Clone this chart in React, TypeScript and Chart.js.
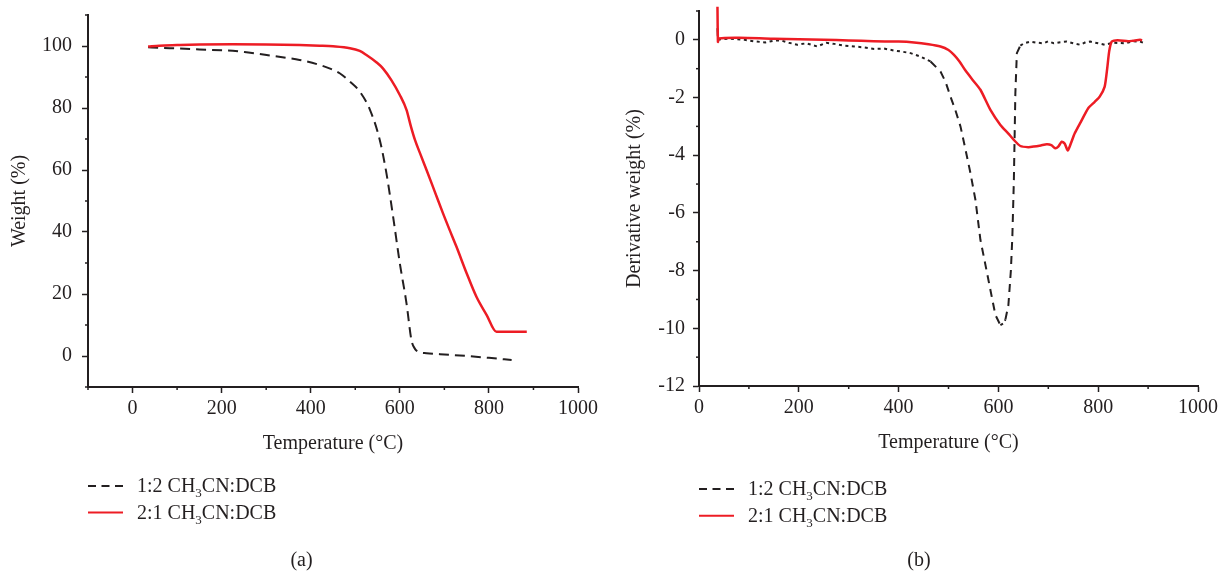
import React, { useEffect, useRef } from "react";
import { Chart, registerables } from "chart.js";

Chart.register(...registerables);

const FONT = "'Liberation Serif', 'DejaVu Serif', serif";
const INK = "#231f20";
const RED = "#ed1c24";

// ---- (a) TGA: weight (%) vs temperature (°C)
const TGA_12_TEMP = [35, 60, 100, 150, 200, 225, 260, 301, 340, 375, 420, 445, 465, 488, 510, 533, 555, 570, 585, 600, 615, 626, 634, 641, 660, 690, 750, 800, 851];
const TGA_12_WEIGHT = [99.6, 99.4, 99.2, 98.9, 98.6, 98.5, 97.9, 97.1, 96.3, 95.5, 93.9, 92.6, 91.2, 88.5, 85.3, 79.4, 69.7, 58.9, 44.9, 29.9, 17.0, 5.2, 2.3, 1.4, 0.9, 0.6, 0.0, -0.6, -1.3];
const TGA_21_TEMP = [35, 60, 100, 150, 225, 300, 375, 420, 450, 488, 510, 525, 548, 562, 581, 600, 615, 625, 634, 647, 660, 678, 697, 712, 727, 750, 772, 795, 817, 850, 885];
const TGA_21_WEIGHT = [99.8, 100.1, 100.3, 100.5, 100.6, 100.5, 100.3, 100.1, 99.9, 99.3, 98.4, 97.1, 94.7, 92.8, 89.0, 84.2, 79.4, 74.0, 69.7, 64.8, 60.0, 53.2, 46.0, 40.6, 35.3, 26.7, 19.1, 13.2, 7.8, 7.8, 7.8];

// ---- (b) DTG: derivative weight (%) vs temperature (°C)
const DTG_12_TEMP = [37, 38, 44, 60, 91, 110, 133, 150, 164, 180, 197, 215, 237, 255, 271, 290, 311, 330, 351, 370, 391, 404, 424, 444, 464, 484, 494, 504, 514, 524, 534, 544, 554, 564, 574, 584, 594, 604, 610, 614, 620, 625, 628, 631, 634, 637, 644, 651, 664, 678, 691, 700, 711, 724, 737, 750, 764, 775, 784, 800, 813, 830, 853, 870, 884, 890];
const DTG_12_DERIV = [0.4, 0.0, 0.02, 0.04, 0.0, -0.05, -0.09, -0.03, -0.02, -0.1, -0.17, -0.12, -0.23, -0.1, -0.14, -0.2, -0.23, -0.26, -0.32, -0.3, -0.37, -0.4, -0.46, -0.58, -0.75, -1.1, -1.45, -1.97, -2.45, -3.0, -3.8, -4.62, -5.55, -6.94, -7.8, -8.67, -9.54, -9.89, -9.83, -9.7, -9.2, -8.0, -6.8, -4.86, -1.85, -0.46, -0.2, -0.12, -0.06, -0.1, -0.12, -0.05, -0.12, -0.08, -0.06, -0.12, -0.17, -0.08, -0.06, -0.12, -0.17, -0.1, -0.12, -0.05, -0.06, -0.1];
const DTG_21_TEMP = [37, 38, 40, 80, 150, 200, 250, 300, 350, 400, 431, 460, 484, 500, 511, 522, 533, 548, 564, 584, 604, 620, 631, 644, 660, 671, 685, 697, 706, 714, 720, 727, 733, 739, 745, 753, 765, 780, 793, 803, 813, 818, 822, 827, 835, 844, 860, 870, 884, 888];
const DTG_21_DERIV = [1.15, -0.07, 0.05, 0.07, 0.04, 0.02, 0.0, -0.02, -0.05, -0.06, -0.09, -0.15, -0.23, -0.35, -0.52, -0.75, -1.04, -1.38, -1.73, -2.43, -2.95, -3.25, -3.47, -3.68, -3.72, -3.7, -3.66, -3.62, -3.65, -3.76, -3.7, -3.53, -3.6, -3.84, -3.6, -3.24, -2.85, -2.37, -2.15, -1.97, -1.62, -1.0, -0.4, -0.06, -0.02, -0.02, -0.05, -0.03, 0.0, -0.02];

// ---- ticks
const TGA_X_TICKS = [0, 200, 400, 600, 800, 1000];
const TGA_X_MINOR = [-100, 100, 300, 500, 700, 900];
const TGA_Y_TICKS = [0, 20, 40, 60, 80, 100];
const TGA_Y_MINOR = [-10, 10, 30, 50, 70, 90, 110];
const DTG_X_TICKS = [0, 200, 400, 600, 800, 1000];
const DTG_X_MINOR = [100, 300, 500, 700, 900];
const DTG_Y_TICKS = [0, -2, -4, -6, -8, -10, -12];
const DTG_Y_MINOR = [1, -1, -3, -5, -7, -9, -11];

// ---- text
const SERIES_LABELS = ["1:2 CH3CN:DCB", "2:1 CH3CN:DCB"];
const LEGEND_PARTS = [
  ["1:2 CH", "3", "CN:DCB"],
  ["2:1 CH", "3", "CN:DCB"],
];
const X_TITLE = "Temperature (°C)";
const TGA_Y_TITLE = "Weight (%)";
const DTG_Y_TITLE = "Derivative weight (%)";
const CAPTIONS = ["(a)", "(b)"];

const pts = (xs: number[], ys: number[]) => xs.map((x, i) => ({ x, y: ys[i] }));

const minorTicksPlugin = {
  id: "minorTicks",
  afterDraw(chart: any, _args: any, opts: any) {
    const { ctx } = chart;
    const xs = chart.scales.x;
    const ys = chart.scales.y;
    const area = chart.chartArea;
    ctx.save();
    ctx.strokeStyle = INK;
    ctx.lineWidth = 1.5;
    ctx.setLineDash([]);
    (opts.x || []).forEach((v: number) => {
      const px = xs.getPixelForValue(v);
      ctx.beginPath();
      ctx.moveTo(px, area.bottom);
      ctx.lineTo(px, area.bottom + 3);
      ctx.stroke();
    });
    (opts.y || []).forEach((v: number) => {
      const py = ys.getPixelForValue(v);
      ctx.beginPath();
      ctx.moveTo(area.left, py);
      ctx.lineTo(area.left - 3, py);
      ctx.stroke();
    });
    ctx.restore();
  },
};

const legendPlugin = {
  id: "customLegend",
  afterDraw(chart: any, _args: any, opts: any) {
    const { ctx } = chart;
    ctx.save();
    opts.items.forEach((it: any, i: number) => {
      const ly = opts.lineY + i * opts.dy;
      ctx.strokeStyle = it.color;
      ctx.lineWidth = 2;
      ctx.setLineDash(it.dash);
      ctx.beginPath();
      ctx.moveTo(opts.lineX, ly);
      ctx.lineTo(opts.lineX + opts.lineLen, ly);
      ctx.stroke();
      ctx.setLineDash([]);
      const by = opts.baseY + i * opts.dy;
      let x = opts.textX;
      ctx.fillStyle = INK;
      ctx.textBaseline = "alphabetic";
      ctx.textAlign = "left";
      const [pre, sub, post] = it.parts;
      ctx.font = `20px ${FONT}`;
      ctx.fillText(pre, x, by);
      x += ctx.measureText(pre).width;
      ctx.font = `13px ${FONT}`;
      ctx.fillText(sub, x, by + 5);
      x += ctx.measureText(sub).width;
      ctx.font = `20px ${FONT}`;
      ctx.fillText(post, x, by);
    });
    ctx.font = `20px ${FONT}`;
    ctx.textAlign = "center";
    ctx.fillStyle = INK;
    ctx.fillText(opts.caption, opts.capX, opts.capY);
    ctx.restore();
  },
};

function makeConfig(c: any) {
  const tickFont = { family: FONT, size: 20, lineHeight: 1 };
  const titleFont = { family: FONT, size: 20, lineHeight: 1.2 };
  return {
    type: "line",
    data: { datasets: c.datasets },
    options: {
      responsive: false,
      animation: false,
      events: [],
      layout: { padding: c.padding },
      plugins: {
        legend: { display: false },
        tooltip: { enabled: false },
        minorTicks: { x: c.xMinor, y: c.yMinor },
        customLegend: c.legend,
      },
      elements: { point: { radius: 0 } },
      scales: {
        x: {
          type: "linear",
          min: c.xMin,
          max: c.xMax,
          afterBuildTicks: (s: any) => {
            s.ticks = c.xTicks.map((v: number) => ({ value: v }));
          },
          afterFit: (s: any) => {
            s.height = c.xHeight;
            s.paddingLeft = 0;
            s.paddingRight = 0;
          },
          grid: { drawOnChartArea: false, drawTicks: true, tickLength: 6, tickWidth: 1.5, tickColor: INK },
          border: { display: true, color: INK, width: 2 },
          ticks: { color: INK, font: tickFont, padding: 6, maxRotation: 0, autoSkip: false, callback: (v: any) => String(v) },
          title: { display: true, text: X_TITLE, color: INK, font: titleFont, padding: { top: 0, bottom: 3 } },
        },
        y: {
          type: "linear",
          min: c.yMin,
          max: c.yMax,
          afterBuildTicks: (s: any) => {
            s.ticks = c.yTicks.map((v: number) => ({ value: v }));
          },
          afterFit: (s: any) => {
            s.width = c.yWidth;
            s.paddingTop = 0;
            s.paddingBottom = 0;
          },
          grid: { drawOnChartArea: false, drawTicks: true, tickLength: 6, tickWidth: 1.5, tickColor: INK },
          border: { display: true, color: INK, width: 2 },
          ticks: { color: INK, font: tickFont, padding: c.yTickPad, autoSkip: false, callback: (v: any) => String(v) },
          title: { display: true, text: c.yTitle, color: INK, font: titleFont, padding: { top: c.yTitlePad, bottom: 0 } },
        },
      },
    },
    plugins: [minorTicksPlugin, legendPlugin],
  };
}

const legendItems = [
  { parts: LEGEND_PARTS[0], color: INK, dash: [8, 5.5] },
  { parts: LEGEND_PARTS[1], color: RED, dash: [] },
];

const configA = () =>
  makeConfig({
    datasets: [
      { label: SERIES_LABELS[1], data: pts(TGA_21_TEMP, TGA_21_WEIGHT), borderColor: RED, borderWidth: 2.5, cubicInterpolationMode: "monotone" },
      { label: SERIES_LABELS[0], data: pts(TGA_12_TEMP, TGA_12_WEIGHT), borderColor: INK, borderWidth: 2, borderDash: [10, 6], cubicInterpolationMode: "monotone" },
    ],
    xMin: -100, xMax: 1000, yMin: -10, yMax: 110,
    xTicks: TGA_X_TICKS, yTicks: TGA_Y_TICKS, xMinor: TGA_X_MINOR, yMinor: TGA_Y_MINOR,
    yTitle: TGA_Y_TITLE, yTitlePad: 8, yTickPad: 10,
    padding: { left: 0, right: 31, top: 15, bottom: 573 - 387 - 72 },
    yWidth: 88, xHeight: 72,
    legend: { items: legendItems, lineX: 88, lineLen: 35, lineY: 486, dy: 26.5, textX: 137, baseY: 492, caption: CAPTIONS[0], capX: 301.5, capY: 566 },
  });

const configB = () =>
  makeConfig({
    datasets: [
      { label: SERIES_LABELS[1], data: pts(DTG_21_TEMP, DTG_21_DERIV), borderColor: RED, borderWidth: 2.5, clip: false, tension: 0.2 },
      {
        label: SERIES_LABELS[0],
        data: pts(DTG_12_TEMP, DTG_12_DERIV),
        borderColor: INK,
        borderWidth: 2,
        borderDash: [7, 6],
        segment: {
          borderDash: (ctx: any) => (Math.abs(ctx.p1.parsed.y - ctx.p0.parsed.y) > 0.25 ? [8, 6] : [3, 3.5]),
        },
      },
    ],
    xMin: 0, xMax: 1000, yMin: -12, yMax: 1,
    xTicks: DTG_X_TICKS, yTicks: DTG_Y_TICKS, xMinor: DTG_X_MINOR, yMinor: DTG_Y_MINOR,
    yTitle: DTG_Y_TITLE, yTitlePad: 13.5, yTickPad: 8,
    padding: { left: 0, right: 21, top: 11, bottom: 573 - 386 - 72 },
    yWidth: 90, xHeight: 72,
    legend: { items: legendItems, lineX: 90, lineLen: 35, lineY: 489, dy: 26.7, textX: 139, baseY: 495, caption: CAPTIONS[1], capX: 310, capY: 566 },
  });

function ChartCanvas({ make, left, width }: { make: () => any; left: number; width: number }) {
  const ref = useRef<HTMLCanvasElement | null>(null);
  useEffect(() => {
    if (!ref.current) return;
    const chart = new Chart(ref.current, make());
    return () => chart.destroy();
  }, [make]);
  return (
    <canvas
      ref={ref}
      width={width}
      height={573}
      style={{ position: "absolute", left, top: 0, width, height: 573, display: "block" }}
    />
  );
}

export default function App() {
  return (
    <div style={{ position: "fixed", left: 0, top: 0, width: 1219, height: 573, background: "#fff", overflow: "hidden" }}>
      <ChartCanvas make={configA} left={0} width={609} />
      <ChartCanvas make={configB} left={609} width={610} />
    </div>
  );
}
